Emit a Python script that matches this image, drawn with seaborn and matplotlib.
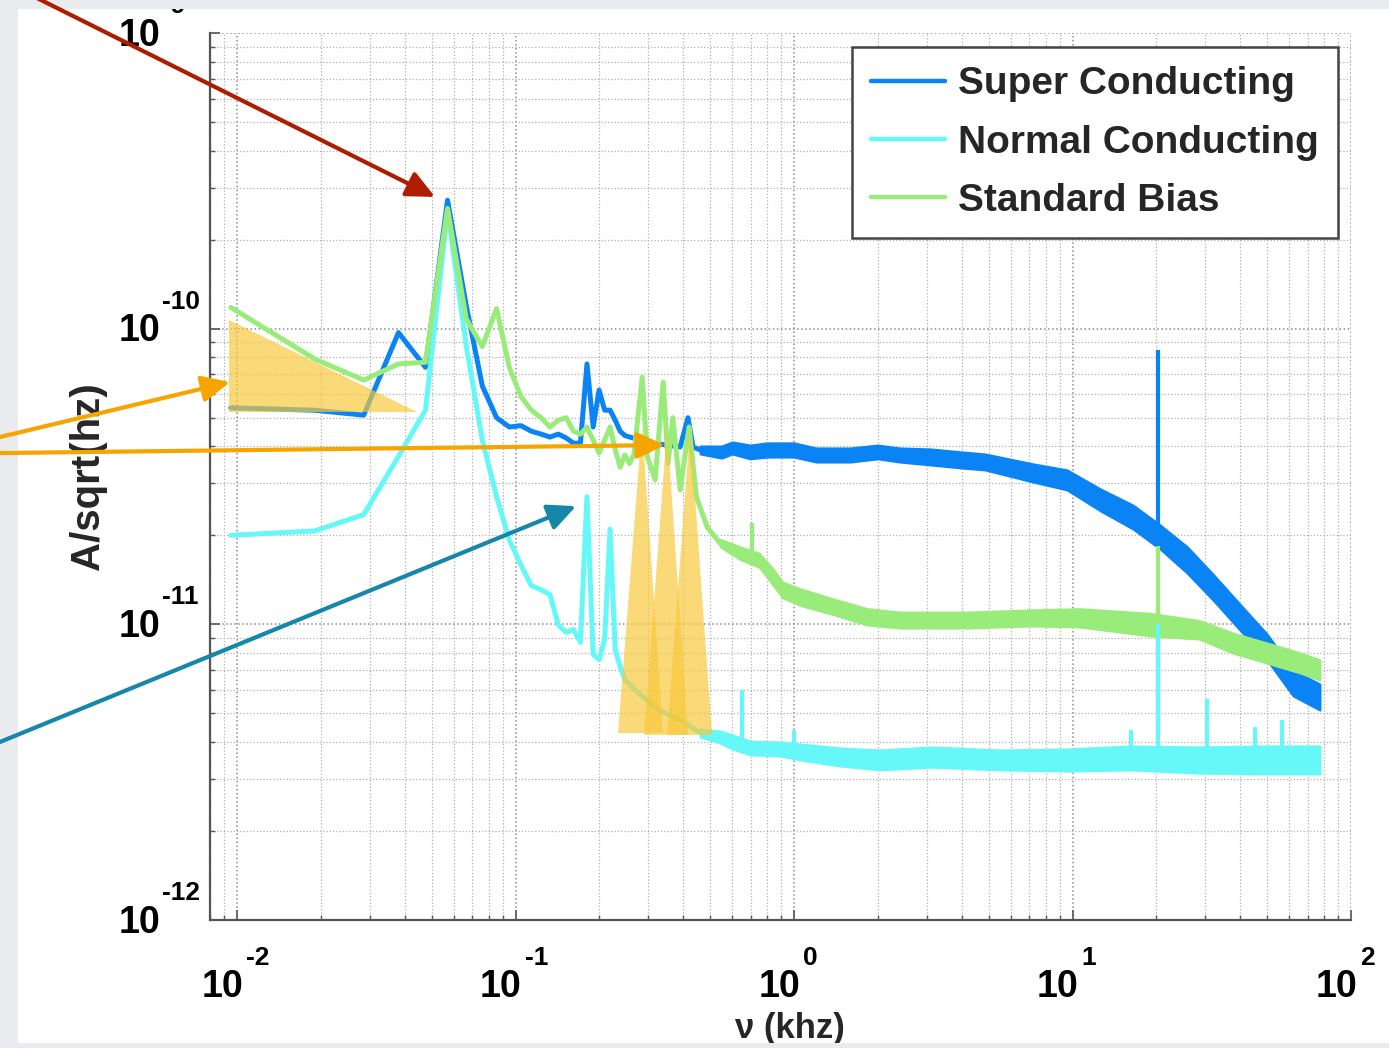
import numpy as np
import pandas as pd
import matplotlib
matplotlib.use('Agg')
import matplotlib.pyplot as plt
from matplotlib.lines import Line2D
from matplotlib.patches import Rectangle, Polygon, ConnectionPatch
from matplotlib.ticker import LogLocator, NullFormatter
import seaborn as sns

# ---- data (frequency in kHz, amplitude in A/sqrt(Hz)) ----
# low-frequency FFT bins shared by all traces
low_freq = [0.0095, 0.019, 0.0285, 0.038, 0.0475, 0.057, 0.0665, 0.076, 0.0855, 0.095,
            0.1045, 0.114, 0.1235, 0.133, 0.1425, 0.152, 0.1615, 0.171, 0.1805, 0.19,
            0.1995, 0.209, 0.2185, 0.228, 0.2375, 0.247]

# Super Conducting
sc_low = [5.4e-11, 5.3e-11, 5.1e-11, 9.7e-11, 7.4e-11, 2.72e-10, 1.2e-10, 6.4e-11, 5.0e-11, 4.65e-11,
          4.7e-11, 4.5e-11, 4.4e-11, 4.3e-11, 4.4e-11, 4.27e-11, 4.1e-11, 4.1e-11, 7.6e-11, 4.65e-11,
          6.2e-11, 5.3e-11, 5.3e-11, 4.9e-11, 4.5e-11, 4.35e-11]
sc_mid_freq = [0.28, 0.311, 0.39, 0.416, 0.434, 0.46]
sc_mid = [4.2e-11, 4.1e-11, 3.98e-11, 5.0e-11, 3.98e-11, 3.89e-11]
# noisy high-frequency part: lower / upper edge of the band
sc_band_freq = [0.46, 0.55, 0.6, 0.695, 0.8, 1.0, 1.2, 1.59, 2.0, 2.4, 3.1, 4.0, 4.85, 7.21, 9.55,
                12.6, 16.5, 20.6, 25.8, 31.9, 39.9, 49.9, 61.9, 77.3]
sc_band_lo = [3.77e-11, 3.65e-11, 3.77e-11, 3.63e-11, 3.68e-11, 3.68e-11, 3.54e-11, 3.54e-11, 3.63e-11,
              3.54e-11, 3.46e-11, 3.38e-11, 3.33e-11, 3.03e-11, 2.85e-11, 2.42e-11, 2.10e-11, 1.80e-11,
              1.49e-11, 1.21e-11, 9.57e-12, 7.58e-12, 5.73e-12, 5.13e-12]
sc_band_hi = [4.01e-11, 4.01e-11, 4.14e-11, 4.04e-11, 4.11e-11, 4.11e-11, 3.95e-11, 3.95e-11, 4.04e-11,
              3.95e-11, 3.92e-11, 3.83e-11, 3.77e-11, 3.49e-11, 3.33e-11, 2.87e-11, 2.53e-11, 2.17e-11,
              1.83e-11, 1.48e-11, 1.17e-11, 9.28e-12, 7.01e-12, 6.28e-12]
sc_spike_freq = [20.3]
sc_spike_base = [2.0e-11]
sc_spike_top = [8.5e-11]

# Normal Conducting
nc_low = [2.0e-11, 2.07e-11, 2.35e-11, 3.7e-11, 5.3e-11, 2.5e-10, 8.8e-11, 4.2e-11, 2.7e-11, 1.93e-11,
          1.59e-11, 1.35e-11, 1.31e-11, 1.26e-11, 9.95e-12, 9.4e-12, 9.6e-12, 8.7e-12, 2.7e-11, 7.9e-12,
          7.6e-12, 8.9e-12, 2.1e-11, 8.2e-12, 7.2e-12, 6.5e-12]
nc_mid_freq = [0.28, 0.33, 0.39, 0.46]
nc_mid = [5.8e-12, 5.1e-12, 4.75e-12, 4.3e-12]
nc_band_freq = [0.46, 0.542, 0.6, 0.696, 0.89, 1.05, 1.46, 2.04, 3.1, 5.5, 9.55, 16.2, 28.5, 46.6, 77.3]
nc_band_lo = [4.16e-12, 3.97e-12, 3.79e-12, 3.62e-12, 3.59e-12, 3.48e-12, 3.32e-12, 3.22e-12, 3.29e-12,
              3.22e-12, 3.19e-12, 3.22e-12, 3.14e-12, 3.12e-12, 3.12e-12]
nc_band_hi = [4.43e-12, 4.36e-12, 4.23e-12, 4.03e-12, 4.00e-12, 3.94e-12, 3.82e-12, 3.76e-12, 3.85e-12,
              3.76e-12, 3.79e-12, 3.88e-12, 3.85e-12, 3.88e-12, 3.88e-12]
nc_spike_freq = [0.65, 1.0, 16.2, 20.3, 30.3, 45.2, 56.6]
nc_spike_base = [3.9e-12, 3.7e-12, 3.6e-12, 3.6e-12, 3.6e-12, 3.6e-12, 3.6e-12]
nc_spike_top = [6.0e-12, 4.4e-12, 4.4e-12, 1.0e-11, 5.6e-12, 4.5e-12, 4.75e-12]

# Standard Bias
sb_low = [1.18e-10, 7.9e-11, 6.7e-11, 7.6e-11, 7.7e-11, 2.55e-10, 1.08e-10, 8.7e-11, 1.17e-10, 7.4e-11,
          5.9e-11, 5.3e-11, 5.0e-11, 4.65e-11, 4.9e-11, 5.0e-11, 4.5e-11, 4.4e-11, 4.65e-11, 4.2e-11,
          3.8e-11, 4.2e-11, 4.65e-11, 3.9e-11, 3.4e-11, 3.74e-11]
sb_mid_freq = [0.2565, 0.266, 0.285, 0.297, 0.317, 0.339, 0.353, 0.367, 0.39, 0.42, 0.446, 0.488, 0.543]
sb_mid = [3.5e-11, 3.74e-11, 6.85e-11, 3.7e-11, 3.08e-11, 6.6e-11, 3.5e-11, 5.0e-11, 2.85e-11,
          4.65e-11, 2.7e-11, 2.13e-11, 1.88e-11]
sb_band_freq = [0.543, 0.639, 0.75, 0.84, 0.91, 1.05, 1.38, 1.83, 2.41, 4.2, 7.2, 10.6, 19.0, 28.5,
                37.6, 49.9, 65.7, 77.3]
sb_band_lo = [1.83e-11, 1.66e-11, 1.56e-11, 1.36e-11, 1.23e-11, 1.16e-11, 1.08e-11, 9.95e-12, 9.72e-12,
              9.72e-12, 9.88e-12, 9.80e-12, 9.14e-12, 8.92e-12, 8.00e-12, 7.40e-12, 6.85e-12, 6.49e-12]
sb_band_hi = [1.94e-11, 1.83e-11, 1.74e-11, 1.54e-11, 1.39e-11, 1.32e-11, 1.22e-11, 1.13e-11, 1.10e-11,
              1.10e-11, 1.12e-11, 1.13e-11, 1.09e-11, 1.03e-11, 9.35e-12, 8.65e-12, 8.00e-12, 7.58e-12]
sb_spike_freq = [0.706, 20.3]
sb_spike_base = [1.7e-11, 1.05e-11]
sb_spike_top = [2.2e-11, 1.84e-11]

labels = ['Super Conducting', 'Normal Conducting', 'Standard Bias']
colors = ['#0a84f5', '#66f8f8', '#9aec7a']

# highlighted regions (yellow triangles), vertices as (kHz, amplitude)
tri_low = [(0.00936, 1.07e-10), (0.00936, 5.23e-11), (0.0443, 5.23e-11)]
tri_peaks = [
    [(0.2846, 4.72e-11), (0.2333, 4.29e-12), (0.3386, 4.29e-12)],
    [(0.35, 4.65e-11), (0.2894, 4.23e-12), (0.4164, 4.23e-12)],
    [(0.4232, 4.62e-11), (0.35, 4.23e-12), (0.5076, 4.23e-12)],
]

# annotation arrows: tail in figure fraction, tip in data coords
arrows = [
    ((0.0144, 1.01), (0.0514, 2.79e-10), '#b01c02'),
    ((0.0, 0.583), (0.00944, 6.6e-11), '#f5a400'),
    ((0.0, 0.5677), (0.344, 4.04e-11), '#f5a400'),
    ((0.0, 0.292), (0.165, 2.51e-11), '#1687a8'),
]

# ---- style ----
sns.set_style('ticks')
plt.rcParams['font.family'] = ['Liberation Sans', 'DejaVu Sans']
plt.rcParams['font.weight'] = 'bold'

fig = plt.figure(figsize=(13.89, 10.48), dpi=100, facecolor='white')
ax = fig.add_axes([0.1512, 0.1221, 0.8215, 0.8464])
ax.set_facecolor('white')

series = [
    (sc_low, sc_mid_freq, sc_mid, sc_band_freq, sc_band_lo, sc_band_hi, sc_spike_freq, sc_spike_base, sc_spike_top),
    (nc_low, nc_mid_freq, nc_mid, nc_band_freq, nc_band_lo, nc_band_hi, nc_spike_freq, nc_spike_base, nc_spike_top),
    (sb_low, sb_mid_freq, sb_mid, sb_band_freq, sb_band_lo, sb_band_hi, sb_spike_freq, sb_spike_base, sb_spike_top),
]

for (la, mf, ma, bf, blo, bhi, spf, spb, spt), col in zip(series, colors):
    trace = pd.DataFrame({'f': low_freq + mf, 'a': la + ma})
    sns.lineplot(data=trace, x='f', y='a', ax=ax, color=col, linewidth=3.6,
                 estimator=None, sort=False, legend=False)
    ax.fill_between(bf, blo, bhi, color=col, linewidth=1.5, edgecolor=col)
    ax.vlines(spf, spb, spt, color=col, linewidth=3.0)

for tri in [tri_low] + tri_peaks:
    ax.add_patch(Polygon(tri, closed=True, facecolor='#f9c83a', edgecolor='none', alpha=0.68, zorder=4))

ax.set_xscale('log')
ax.set_yscale('log')
ax.set_xlim(0.008, 100)
ax.set_ylim(1e-12, 1e-9)

ax.xaxis.set_major_locator(LogLocator(base=10, numticks=10))
ax.yaxis.set_major_locator(LogLocator(base=10, numticks=10))
ax.xaxis.set_minor_locator(LogLocator(base=10, subs=np.arange(2, 10), numticks=20))
ax.yaxis.set_minor_locator(LogLocator(base=10, subs=np.arange(2, 10), numticks=20))
for axis in [ax.xaxis, ax.yaxis]:
    axis.set_major_formatter(NullFormatter())
    axis.set_minor_formatter(NullFormatter())

ax.grid(True, which='major', linestyle=':', color='#8c8c8c', linewidth=1.1)
ax.grid(True, which='minor', linestyle=':', color='#b0b0b0', linewidth=0.9)
ax.set_axisbelow(True)

for s in ['top', 'right']:
    ax.spines[s].set_visible(False)
for s in ['left', 'bottom']:
    ax.spines[s].set_color('#555555')
    ax.spines[s].set_linewidth(1.6)

ax.tick_params(which='both', direction='in', left=True, bottom=True, colors='#555555')
ax.tick_params(which='major', length=7, width=1.2)
ax.tick_params(which='minor', length=3.5, width=1.0)

# MATLAB-style decade labels: "10" with a raised exponent
lab_kw = dict(textcoords='offset points', fontweight='bold', annotation_clip=False, color='black')
for t in ax.get_xticks():
    if 0.008 <= t <= 100:
        e = int(round(np.log10(t)))
        ax.annotate('10', xy=(t, 0), xycoords=('data', 'axes fraction'), xytext=(4.3, -48),
                    ha='right', va='center', fontsize=27, **lab_kw)
        ax.annotate(str(e), xy=(t, 0), xycoords=('data', 'axes fraction'),
                    xytext=(6.5, -27), ha='left', va='center', fontsize=19, **lab_kw)
for t in ax.get_yticks():
    if 1e-12 <= t <= 1e-9:
        e = int(round(np.log10(t)))
        ax.annotate('10', xy=(0, t), xycoords=('axes fraction', 'data'), xytext=(-36, -2),
                    ha='right', va='center', fontsize=27, **lab_kw)
        ax.annotate(str(e), xy=(0, t), xycoords=('axes fraction', 'data'), xytext=(-34.5, 19.5),
                    ha='left', va='center', fontsize=19, **lab_kw)

ax.set_xlabel('ν (khz)', fontsize=25, fontweight='bold')
ax.set_ylabel('A/sqrt(hz)', fontsize=29, fontweight='bold')
ax.xaxis.set_label_coords(0.508, -0.104)
ax.yaxis.set_label_coords(-0.0903, 0.5)

handles = [Line2D([0], [0], color=c, lw=3.2) for c in colors]
leg = ax.legend(handles, labels, loc='upper right', bbox_to_anchor=(0.9886, 0.9842),
                borderaxespad=0, frameon=True, fancybox=False, framealpha=1,
                handlelength=1.9, handletextpad=0.33, labelspacing=0.57, borderpad=0.5,
                prop={'weight': 'bold', 'size': 28})
leg.get_frame().set_edgecolor('#444444')
leg.get_frame().set_linewidth(1.8)
leg.set_zorder(6)

# slide background bands around the white canvas
gray = '#e9ebef'
for rect in [(0, 0.9914, 1, 0.0086), (0, 0, 1, 0.0048), (0, 0, 0.013, 1)]:
    fig.add_artist(Rectangle(rect[:2], rect[2], rect[3], transform=fig.transFigure,
                             facecolor=gray, edgecolor='none', zorder=5))

for tail, tip, col in arrows:
    con = ConnectionPatch(xyA=tail, coordsA=fig.transFigure, xyB=tip, coordsB=ax.transData,
                          arrowstyle='-|>,head_length=17,head_width=8', mutation_scale=1,
                          color=col, linewidth=3.0, shrinkA=0, shrinkB=0, zorder=10)
    fig.add_artist(con)

fig.savefig('out.png', dpi=100, facecolor=fig.get_facecolor())
